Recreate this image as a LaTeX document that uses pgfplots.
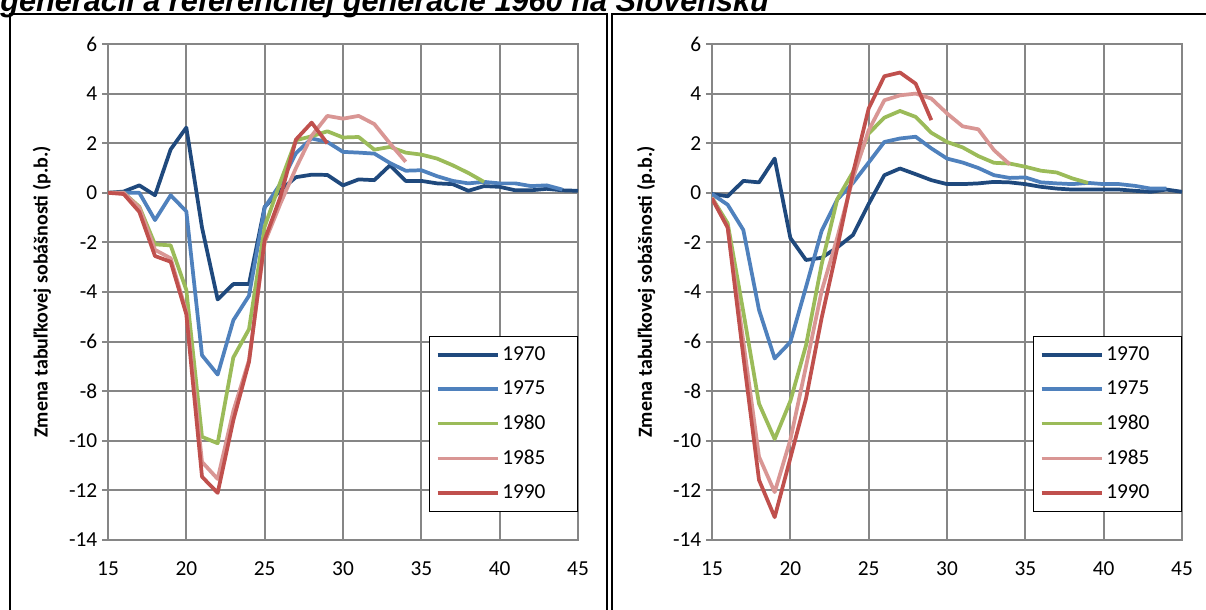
\documentclass[border=0pt]{standalone}
\usepackage{fontspec}
\setmainfont{Carlito}
\newfontfamily\titlefont{Liberation Sans}
\usepackage{pgfplots}
\pgfplotsset{compat=1.18}
\definecolor{cA}{HTML}{1F497D}
\definecolor{cB}{HTML}{4F81BD}
\definecolor{cC}{HTML}{9BBB59}
\definecolor{cD}{HTML}{D99694}
\definecolor{cE}{HTML}{C0504D}
\definecolor{gridgray}{HTML}{868686}

\pgfplotstableread{
age v
15 0
16 0.05
17 0.3
18 -0.1
19 1.75
20 2.63
21 -1.4
22 -4.3
23 -3.68
24 -3.68
25 -0.57
26 0.1
27 0.63
28 0.73
29 0.72
30 0.3
31 0.54
32 0.51
33 1.11
34 0.48
35 0.48
36 0.38
37 0.35
38 0.08
39 0.27
40 0.24
41 0.1
42 0.1
43 0.16
44 0.1
45 0.08
}\LA
\pgfplotstableread{
age v
15 0
16 0
17 0
18 -1.1
19 -0.1
20 -0.75
21 -6.55
22 -7.33
23 -5.14
24 -4.15
25 -0.6
26 0.36
27 1.6
28 2.19
29 2.05
30 1.65
31 1.62
32 1.58
33 1.2
34 0.89
35 0.91
36 0.67
37 0.48
38 0.38
39 0.44
40 0.38
41 0.38
42 0.27
43 0.3
44 0.13
}\LB
\pgfplotstableread{
age v
15 0
16 0
17 -0.56
18 -2.08
19 -2.12
20 -3.92
21 -9.84
22 -10.1
23 -6.64
24 -5.5
25 -1.37
26 0.43
27 2.12
28 2.28
29 2.48
30 2.23
31 2.25
32 1.74
33 1.85
34 1.62
35 1.54
36 1.38
37 1.11
38 0.8
39 0.44
}\LC
\pgfplotstableread{
age v
15 0
16 0
17 -0.6
18 -2.3
19 -2.64
20 -4.8
21 -10.85
22 -11.54
23 -8.8
24 -6.75
25 -2.0
26 -0.44
27 1.0
28 2.3
29 3.1
30 2.99
31 3.1
32 2.77
33 1.99
34 1.25
}\LD
\pgfplotstableread{
age v
15 0
16 -0.05
17 -0.77
18 -2.55
19 -2.78
20 -4.9
21 -11.45
22 -12.1
23 -9.17
24 -6.82
25 -1.9
26 -0.17
27 2.15
28 2.83
29 1.99
}\LE

\pgfplotstableread{
age v
15 -0.05
16 -0.14
17 0.48
18 0.42
19 1.38
20 -1.82
21 -2.71
22 -2.62
23 -2.2
24 -1.7
25 -0.45
26 0.71
27 0.98
28 0.75
29 0.51
30 0.35
31 0.35
32 0.38
33 0.44
34 0.42
35 0.35
36 0.24
37 0.17
38 0.13
39 0.13
40 0.13
41 0.13
42 0.08
43 0.04
44 0.13
45 0.04
}\RA
\pgfplotstableread{
age v
15 -0.05
16 -0.48
17 -1.5
18 -4.72
19 -6.68
20 -6.02
21 -3.8
22 -1.53
23 -0.27
24 0.4
25 1.22
26 2.05
27 2.19
28 2.26
29 1.79
30 1.38
31 1.22
32 1.0
33 0.71
34 0.6
35 0.62
36 0.42
37 0.38
38 0.35
39 0.4
40 0.35
41 0.35
42 0.28
43 0.17
44 0.17
}\RB
\pgfplotstableread{
age v
15 -0.2
16 -1.23
17 -4.8
18 -8.5
19 -9.93
20 -8.4
21 -6.15
22 -2.88
23 -0.25
24 0.84
25 2.39
26 3.03
27 3.3
28 3.06
29 2.42
30 2.05
31 1.83
32 1.48
33 1.21
34 1.18
35 1.05
36 0.89
37 0.82
38 0.58
39 0.4
}\RC
\pgfplotstableread{
age v
15 -0.2
16 -1.4
17 -6.0
18 -10.64
19 -12.07
20 -9.96
21 -7.0
22 -3.96
23 -1.8
24 0.6
25 2.52
26 3.73
27 3.93
28 4.0
29 3.8
30 3.2
31 2.68
32 2.56
33 1.72
34 1.15
}\RD
\pgfplotstableread{
age v
15 -0.23
16 -1.4
17 -6.6
18 -11.58
19 -13.08
20 -10.7
21 -8.3
22 -5.04
23 -2.2
24 0.8
25 3.4
26 4.7
27 4.85
28 4.4
29 2.93
}\RE

\pgfplotsset{
  panel/.style={
    scale only axis, width=352.5pt, height=372pt, anchor=south west,
    xmin=15, xmax=45, ymin=-14, ymax=6,
    xtick={15,20,...,45}, xticklabels={15,20,25,30,35,40,45},
    ytick={-14,-12,...,6}, yticklabels={-14,-12,-10,-8,-6,-4,-2,0,2,4,6},
    grid=major, grid style={gridgray, line width=1.5pt},
    axis line style={gridgray, line width=1.5pt},
    major tick style={gridgray, line width=1.5pt},
    xtick pos=bottom, ytick pos=left, tick align=outside,
    major tick length=4.5pt, xtick style={draw=none},
    tick label style={font=\fontsize{16}{18}\selectfont},
    xticklabel style={anchor=center, yshift=-17pt},
    yticklabel style={anchor=east},
    ylabel={Zmena tabuľkovej sobášnosti (p.b.)},
    ylabel style={font=\fontsize{15}{17}\selectfont\bfseries, at={(axis description cs:-0.1404,0.5)}, anchor=center},
    every axis plot/.append style={line width=2.8pt, line join=round, mark=none},
    legend image code/.code={\draw[#1] (0pt,0pt) -- (45pt,0pt);},
    legend cell align=left,
    legend style={at={(1,0.0565)}, anchor=south east, draw=black, line width=0.6pt,
      fill=white, font=\fontsize{16}{18}\selectfont, row sep=9.75pt,
      inner xsep=5pt, inner ysep=6pt, nodes={inner xsep=2pt}},
  }
}

\begin{document}
\begin{tikzpicture}
\useasboundingbox (0,0) rectangle (904.5pt,457.5pt);
\clip (0,0) rectangle (904.5pt,457.5pt);
\fill[white] (0,0) rectangle (904.5pt,457.5pt);
\node[anchor=base west, inner sep=0pt, font=\titlefont\bfseries\itshape\fontsize{23}{26}\selectfont] at (0pt,448.9pt) {generácií a referenčnej generácie 1960 na Slovensku};
\draw[black, line width=1.1pt] (7.5pt,-5pt) -- (7.5pt,447pt) -- (455.25pt,447pt) -- (455.25pt,-5pt);
\draw[black, line width=1.1pt] (459pt,-5pt) -- (459pt,447pt) -- (910pt,447pt);

\begin{axis}[panel, at={(81pt,52.5pt)}]
\addplot[cA] table[x=age,y=v]{\LA};
\addplot[cB] table[x=age,y=v]{\LB};
\addplot[cC] table[x=age,y=v]{\LC};
\addplot[cD] table[x=age,y=v]{\LD};
\addplot[cE] table[x=age,y=v]{\LE};
\legend{\makebox[49.5pt][l]{1970},\makebox[49.5pt][l]{1975},\makebox[49.5pt][l]{1980},\makebox[49.5pt][l]{1985},\makebox[49.5pt][l]{1990}}
\end{axis}

\begin{axis}[panel, at={(534pt,52.5pt)}]
\addplot[cA] table[x=age,y=v]{\RA};
\addplot[cB] table[x=age,y=v]{\RB};
\addplot[cC] table[x=age,y=v]{\RC};
\addplot[cD] table[x=age,y=v]{\RD};
\addplot[cE] table[x=age,y=v]{\RE};
\legend{\makebox[49.5pt][l]{1970},\makebox[49.5pt][l]{1975},\makebox[49.5pt][l]{1980},\makebox[49.5pt][l]{1985},\makebox[49.5pt][l]{1990}}
\end{axis}
\end{tikzpicture}
\end{document}
